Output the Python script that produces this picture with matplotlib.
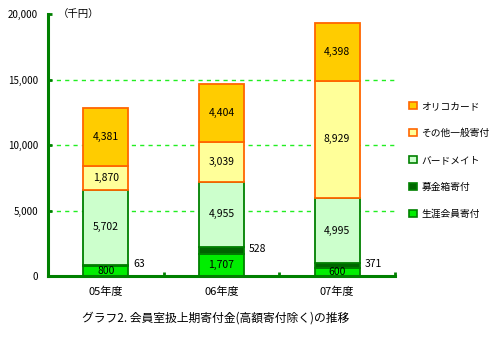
import matplotlib.pyplot as plt
from matplotlib.patches import Patch
import numpy as np

plt.rcParams['font.family'] = ['Noto Sans CJK JP', 'DejaVu Sans']

years = ['05年度', '06年度', '07年度']
series = ['生涯会員寄付', '募金箱寄付', 'バードメイト', 'その他一般寄付', 'オリコカード']
shogai = [800, 1707, 600]
bokin = [63, 528, 371]
birdmate = [5702, 4955, 4995]
sonota = [1870, 3039, 8929]
orico = [4381, 4404, 4398]

values = [shogai, bokin, birdmate, sonota, orico]
fills = ['#00ee00', '#006600', '#ccffcc', '#ffff99', '#ffcc00']
edges = ['#008000', '#008000', '#008000', '#ff6600', '#ff6600']
side_label = [False, True, False, False, False]

fig = plt.figure(figsize=(5.03, 3.40), dpi=100)
ax = fig.add_axes([48 / 503, 1 - 276 / 340, 347 / 503, 262 / 340])

x = np.arange(len(years)) + 0.5
width = 0.39

for y in [5000, 10000, 15000]:
    ax.axhline(y, color='#22ee22', lw=1, ls=(0, (3, 3)), zorder=0)

bottom = np.zeros(len(years))
for vals, fc, ec, side in zip(values, fills, edges, side_label):
    vals = np.array(vals, dtype=float)
    ax.bar(x, vals, width, bottom=bottom, color=fc, edgecolor=ec, linewidth=1.3, zorder=2)
    for xi, b, v in zip(x, bottom, vals):
        if side:
            ax.text(xi + width / 2 + 0.04, b + v / 2 + 120, f'{int(v):,}', ha='left', va='center', fontsize=7.5)
        else:
            ax.text(xi, b + v / 2, f'{int(v):,}', ha='center', va='center', fontsize=7.5)
    bottom += vals

ax.set_xlim(0, 3)
ax.set_ylim(0, 20000)
ax.set_yticks([0, 5000, 10000, 15000, 20000])
ax.set_yticklabels([f'{v:,}' for v in [0, 5000, 10000, 15000, 20000]], fontsize=7)
ax.set_xticks([1, 2, 3])
ax.set_xticklabels([])
ax.set_xticks(x, minor=True)
ax.set_xticklabels(years, minor=True, fontsize=8)
ax.tick_params(axis='x', which='minor', length=0, pad=8)
ax.tick_params(axis='x', which='major', direction='in', length=3, width=2, color='#008000')
ax.tick_params(axis='y', direction='in', length=3, width=2, color='#008000', pad=7)

for side in ['top', 'right']:
    ax.spines[side].set_visible(False)
for side in ['left', 'bottom']:
    ax.spines[side].set_color('#008000')
    ax.spines[side].set_linewidth(2.2)

fig.text(58 / 503, 1 - 14 / 340, '（千円）', fontsize=7.5, va='center', ha='left')

handles = [Patch(facecolor=fc, edgecolor=ec, linewidth=1.2) for fc, ec in zip(fills, edges)]
ax.legend(handles[::-1], series[::-1], loc='upper left', bbox_to_anchor=(404 / 503, 1 - 96 / 340),
          bbox_transform=fig.transFigure, frameon=False, fontsize=7, handlelength=0.8,
          handleheight=0.8, handletextpad=0.5, labelspacing=1.75, borderpad=0)

fig.text(216 / 503, 1 - 318 / 340, 'グラフ2. 会員室扱上期寄付金(高額寄付除く)の推移', fontsize=8.5,
         ha='center', va='center')

fig.savefig('out.png', dpi=100)
